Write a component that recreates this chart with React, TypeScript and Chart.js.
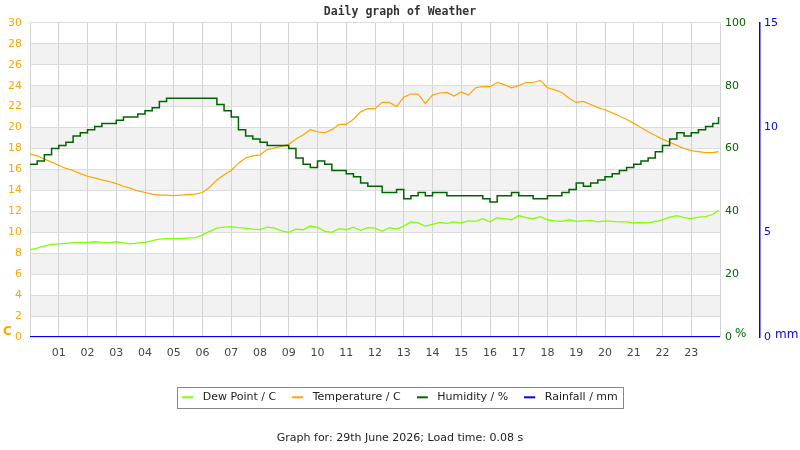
import React, { useEffect, useRef } from 'react'
import { Chart, registerables } from 'chart.js'

Chart.register(...registerables)

// readings every quarter hour (hour of day)
const hours = [
  0, 0.25, 0.5, 0.75, 1, 1.25, 1.5, 1.75, 2, 2.25, 2.5, 2.75, 3, 3.25, 3.5, 3.75,
  4, 4.25, 4.5, 4.75, 5, 5.25, 5.5, 5.75, 6, 6.25, 6.5, 6.75, 7, 7.25, 7.5, 7.75,
  8, 8.25, 8.5, 8.75, 9, 9.25, 9.5, 9.75, 10, 10.25, 10.5, 10.75, 11, 11.25, 11.5, 11.75,
  12, 12.25, 12.5, 12.75, 13, 13.25, 13.5, 13.75, 14, 14.25, 14.5, 14.75, 15, 15.25, 15.5, 15.75,
  16, 16.25, 16.5, 16.75, 17, 17.25, 17.5, 17.75, 18, 18.25, 18.5, 18.75, 19, 19.25, 19.5, 19.75,
  20, 20.25, 20.5, 20.75, 21, 21.25, 21.5, 21.75, 22, 22.25, 22.5, 22.75, 23, 23.25, 23.5, 23.75,
  23.95
]

const dewPoint = [
  8.35, 8.5, 8.7, 8.85, 8.9, 8.95, 9.0, 9.05, 9.05, 9.1, 9.05, 9.0, 9.1, 9.0, 8.9, 9.0,
  9.05, 9.2, 9.35, 9.4, 9.4, 9.4, 9.45, 9.5, 9.75, 10.1, 10.4, 10.5, 10.55, 10.45, 10.4, 10.3,
  10.25, 10.5, 10.4, 10.15, 10.0, 10.3, 10.25, 10.6, 10.5, 10.1, 10.0, 10.35, 10.25, 10.5, 10.2, 10.45,
  10.4, 10.1, 10.45, 10.3, 10.6, 11.0, 10.9, 10.6, 10.75, 10.95, 10.85, 11.0, 10.9, 11.1, 11.05, 11.3,
  11.0, 11.4, 11.3, 11.2, 11.6, 11.4, 11.3, 11.5, 11.2, 11.1, 11.05, 11.2, 11.05, 11.1, 11.15, 11.0,
  11.1, 11.05, 11.0, 11.0, 10.9, 10.95, 10.9, 11.05, 11.2, 11.45, 11.6, 11.4, 11.3, 11.45, 11.5, 11.7,
  12.1
]

const temperature = [
  17.5, 17.3, 17.0, 16.7, 16.4, 16.1, 15.9, 15.6, 15.35, 15.2, 15.0, 14.85, 14.65, 14.4, 14.2, 13.95,
  13.8, 13.65, 13.55, 13.55, 13.5, 13.55, 13.6, 13.65, 13.8, 14.3, 15.0, 15.5, 15.9, 16.6, 17.1, 17.3,
  17.4, 17.9, 18.05, 18.2, 18.4, 18.9, 19.3, 19.8, 19.6, 19.5, 19.8, 20.3, 20.3, 20.8, 21.5, 21.8,
  21.8, 22.4, 22.4, 22.0, 22.9, 23.2, 23.2, 22.3, 23.1, 23.3, 23.35, 23.0, 23.4, 23.1, 23.8, 23.9,
  23.9, 24.3, 24.1, 23.8, 24.0, 24.3, 24.3, 24.5, 23.8, 23.6, 23.35, 22.8, 22.4, 22.5, 22.2, 21.9,
  21.7, 21.4, 21.1, 20.8, 20.4, 20.0, 19.6, 19.25, 18.9, 18.6, 18.3, 18.0, 17.8, 17.7, 17.6, 17.6,
  17.7
]

const humidity = [
  55, 56, 58, 60, 61, 62, 64, 65, 66, 67, 68, 68, 69, 70, 70, 71,
  72, 73, 75, 76, 76, 76, 76, 76, 76, 76, 74, 72, 70, 66, 64, 63,
  62, 61, 61, 61, 60, 57, 55, 54, 56, 55, 53, 53, 52, 51, 49, 48,
  48, 46, 46, 47, 44, 45, 46, 45, 46, 46, 45, 45, 45, 45, 45, 44,
  43, 45, 45, 46, 45, 45, 44, 44, 45, 45, 46, 47, 49, 48, 49, 50,
  51, 52, 53, 54, 55, 56, 57, 59, 61, 63, 65, 64, 65, 66, 67, 68,
  70
]

const rainHours = [0, 6, 12, 18, 24]
const rainfall = [0, 0, 0, 0, 0]

const hourLabels = [
  '', '01', '02', '03', '04', '05', '06', '07', '08', '09', '10', '11', '12',
  '13', '14', '15', '16', '17', '18', '19', '20', '21', '22', '23', ''
]
const shadedBands = [2, 6, 10, 14, 18, 22, 26]

const titleText = 'Daily graph of Weather'
const footerText = 'Graph for: 29th June 2026; Load time: 0.08 s'

const FONT = "'DejaVu Sans', sans-serif"

const pts = (xs: number[], ys: number[]) => xs.map((x, i) => ({ x, y: ys[i] }))

// short legend dash with a little room on its right
const legendMark = (color: string) => {
  const c = document.createElement('canvas')
  c.width = 15
  c.height = 4
  const g = c.getContext('2d')
  if (g) {
    g.fillStyle = color
    g.fillRect(0, 1, 11, 2)
  }
  return c
}

const bandsPlugin = {
  id: 'bands',
  beforeDraw(chart: any) {
    const { ctx, chartArea } = chart
    const y = chart.scales.y
    ctx.save()
    ctx.fillStyle = '#f2f2f2'
    shadedBands.forEach((b) => {
      const top = y.getPixelForValue(b + 2)
      const bottom = y.getPixelForValue(b)
      ctx.fillRect(chartArea.left, top, chartArea.right - chartArea.left, bottom - top)
    })
    ctx.restore()
  }
}

const extrasPlugin = {
  id: 'extras',
  afterDraw(chart: any) {
    const { ctx, chartArea } = chart
    ctx.save()
    // unit labels
    ctx.textBaseline = 'middle'
    ctx.font = `bold 12px ${FONT}`
    ctx.fillStyle = '#ffa500'
    ctx.fillText('C', 3, chartArea.bottom - 5)
    ctx.font = `12px ${FONT}`
    ctx.fillStyle = '#006400'
    ctx.fillText('%', chartArea.right + 15, chartArea.bottom - 3)
    ctx.fillStyle = '#0000ff'
    ctx.fillText('mm', chart.scales.y2.left + 15, chartArea.bottom - 2)

    // legend frame
    const boxes = chart.legend?.legendHitBoxes || []
    if (boxes.length) {
      const l = Math.min(...boxes.map((b: any) => b.left)) - 5
      const r = Math.max(...boxes.map((b: any) => b.left + b.width)) + 5
      const t = Math.min(...boxes.map((b: any) => b.top)) - 5
      const btm = Math.max(...boxes.map((b: any) => b.top + b.height)) + 5
      ctx.strokeStyle = '#888'
      ctx.lineWidth = 1
      ctx.strokeRect(Math.round(l) + 0.5, Math.round(t) + 0.5, Math.round(r - l), Math.round(btm - t))
    }
    ctx.restore()
  }
}

const WeatherChart: React.FC = () => {
  const canvasRef = useRef<HTMLCanvasElement | null>(null)

  useEffect(() => {
    if (!canvasRef.current) return
    const chart = new Chart(canvasRef.current, {
      type: 'line',
      data: {
        datasets: [
          {
            label: 'Dew Point / C',
            data: pts(hours, dewPoint),
            borderColor: '#80ff00',
            backgroundColor: '#80ff00',
            borderWidth: 1.3,
            yAxisID: 'y',
            order: 3
          },
          {
            label: 'Temperature / C',
            data: pts(hours, temperature),
            borderColor: '#ffa500',
            backgroundColor: '#ffa500',
            borderWidth: 1.2,
            yAxisID: 'y',
            order: 2
          },
          {
            label: 'Humidity / %',
            data: pts(hours, humidity),
            borderColor: '#006400',
            backgroundColor: '#006400',
            borderWidth: 1.5,
            stepped: true,
            yAxisID: 'y1',
            order: 1
          },
          {
            label: 'Rainfall / mm',
            data: pts(rainHours, rainfall),
            borderColor: '#0000ff',
            backgroundColor: '#0000ff',
            borderWidth: 2,
            yAxisID: 'y2',
            order: 0
          }
        ]
      },
      options: {
        responsive: false,
        animation: false,
        events: [],
        layout: { padding: { left: 0, right: 0, top: 0, bottom: 5.5 } },
        elements: { point: { radius: 0 }, line: { tension: 0 } },
        scales: {
          x: {
            type: 'linear',
            min: 0,
            max: 24,
            ticks: {
              stepSize: 1,
              autoSkip: false,
              maxRotation: 0,
              padding: 9,
              color: '#444',
              font: { family: FONT, size: 11 },
              callback: (v: any) => hourLabels[v] ?? ''
            },
            grid: { color: '#d3d3d3', drawTicks: false },
            border: { display: false },
            afterFit: (s: any) => { s.height += 7.5 }
          },
          y: {
            position: 'left',
            min: 0,
            max: 30,
            ticks: {
              stepSize: 2,
              padding: 8,
              color: '#ffa500',
              font: { family: FONT, size: 11 }
            },
            grid: { color: '#dcdcdc', drawTicks: false },
            border: { display: false },
            afterFit: (s: any) => { s.width = 30 }
          },
          y1: {
            position: 'right',
            min: 0,
            max: 100,
            ticks: {
              stepSize: 20,
              padding: 5,
              color: '#006400',
              font: { family: FONT, size: 11 }
            },
            grid: { display: false, drawTicks: false },
            border: { display: false },
            afterFit: (s: any) => { s.width = 40 }
          },
          y2: {
            position: 'right',
            min: 0,
            max: 15,
            ticks: {
              stepSize: 5,
              padding: 4,
              color: '#0000ff',
              font: { family: FONT, size: 11 }
            },
            grid: { display: false, drawTicks: false },
            border: { display: true, color: '#0000ff', width: 1.5 },
            afterFit: (s: any) => { s.width = 40 }
          }
        },
        plugins: {
          title: {
            display: true,
            text: titleText,
            color: '#333',
            font: { family: "'DejaVu Sans Mono', monospace", size: 11.5, weight: 'bold' },
            padding: { top: 5, bottom: 4 }
          },
          legend: {
            position: 'bottom',
            labels: {
              usePointStyle: true,
              pointStyleWidth: 15,
              padding: 16,
              color: '#222',
              font: { family: FONT, size: 11 },
              generateLabels: (c: any) =>
                c.data.datasets.map((d: any, i: number) => ({
                  text: d.label,
                  strokeStyle: d.borderColor,
                  fillStyle: d.borderColor,
                  lineWidth: 0,
                  pointStyle: legendMark(d.borderColor),
                  fontColor: '#222',
                  datasetIndex: i,
                  hidden: false
                }))
            }
          },
          subtitle: {
            display: true,
            position: 'bottom',
            text: footerText,
            color: '#222',
            font: { family: FONT, size: 11 },
            padding: { top: 18.5, bottom: 0 }
          },
          tooltip: { enabled: false }
        }
      },
      plugins: [bandsPlugin, extrasPlugin]
    } as any)

    return () => {
      chart.destroy()
    }
  }, [])

  return (
    <div style={{ position: 'absolute', left: 0, top: 0, width: 800, height: 450, background: '#fff' }}>
      <canvas ref={canvasRef} width={800} height={450} style={{ display: 'block' }} />
    </div>
  )
}

export default function App() {
  return <WeatherChart />
}
